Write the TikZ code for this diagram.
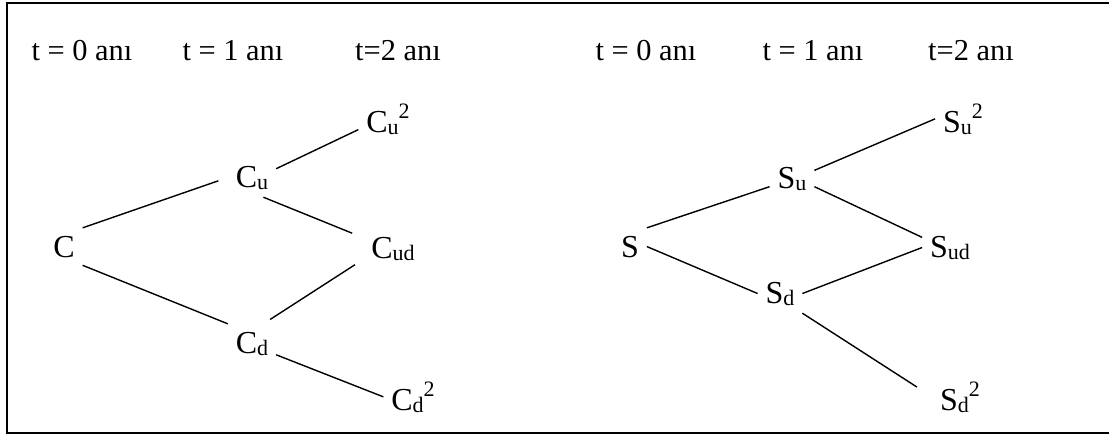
\documentclass[tikz,border=0pt]{standalone}
\usepackage{fontspec}
\setmainfont{Liberation Serif}
\usepackage{tikz}
\usetikzlibrary{positioning}
\newcommand{\subtxt}[1]{\raisebox{-1pt}{\fontsize{11}{13}\selectfont #1}}
\newcommand{\suptxt}[1]{\raisebox{7pt}{\fontsize{11}{13}\selectfont #1}}
\tikzset{
  hdr/.style={font=\fontsize{15.2}{18}\selectfont, anchor=base, inner sep=0pt},
  lbl/.style={font=\fontsize{16}{19}\selectfont, anchor=base, inner sep=4pt, outer sep=0pt},
  branch/.style={line width=0.7pt},
  frame/.style={line width=1pt}
}

\begin{document}
\begin{tikzpicture}[x=0.5pt,y=-0.5pt]
  \useasboundingbox (0,0) rectangle (1109,435);
  \draw[frame] (6.5,2.5) rectangle (1120,433);
  % time headers
  \node[hdr] (hL0) at (82,60)  {t = 0 anı};
  \node[hdr] (hL1) at (233,60) {t = 1 anı};
  \node[hdr] (hL2) at (398,60) {t=2 anı};
  \node[hdr] (hR0) at (646,60) {t = 0 anı};
  \node[hdr] (hR1) at (813,60) {t = 1 anı};
  \node[hdr] (hR2) at (971,60) {t=2 anı};
  % left tree
  \node[lbl] (C)   at (64,257)  {C};
  \node[lbl] (Cu)  at (252,187) {C\subtxt{u}};
  \node[lbl] (Cd)  at (252,353) {C\subtxt{d}};
  \node[lbl] (Cuu) at (388,132) {C\subtxt{u}\suptxt{2}};
  \node[lbl] (Cud) at (393,258) {C\subtxt{ud}};
  \node[lbl] (Cdd) at (413,410) {C\subtxt{d}\suptxt{2}};
  \draw[branch, shorten >=5pt] (C.north east) -- (Cu.west);
  \draw[branch] (C.south east) -- (Cd.north west);
  \draw[branch] (Cu.20) -- (Cuu.200);
  \draw[branch, shorten >=6pt] (Cu.-60) -- (Cud.160);
  \draw[branch, shorten <=4pt, shorten >=5pt] (Cd.60) -- (Cud.200);
  \draw[branch] (Cd.-25) -- (Cdd.west);
  % right tree
  \node[lbl] (S)   at (630,257) {S};
  \node[lbl] (Su)  at (792,188) {S\subtxt{u}};
  \node[lbl] (Sd)  at (780,303) {S\subtxt{d}};
  \node[lbl] (Suu) at (963,132) {S\subtxt{u}\suptxt{2}};
  \node[lbl] (Sud) at (950,257) {S\subtxt{ud}};
  \node[lbl] (Sdd) at (960,410) {S\subtxt{d}\suptxt{2}};
  \draw[branch] (S.north east) -- (Su.200);
  \draw[branch] (S.east) -- (Sd.west);
  \draw[branch] (Su.20) -- (Suu.west);
  \draw[branch] (Su.-20) -- (Sud.160);
  \draw[branch] (Sd.east) -- (Sud.west);
  \draw[branch, shorten >=9pt] (Sd.south east) -- (Sdd.west);
\end{tikzpicture}
\end{document}
